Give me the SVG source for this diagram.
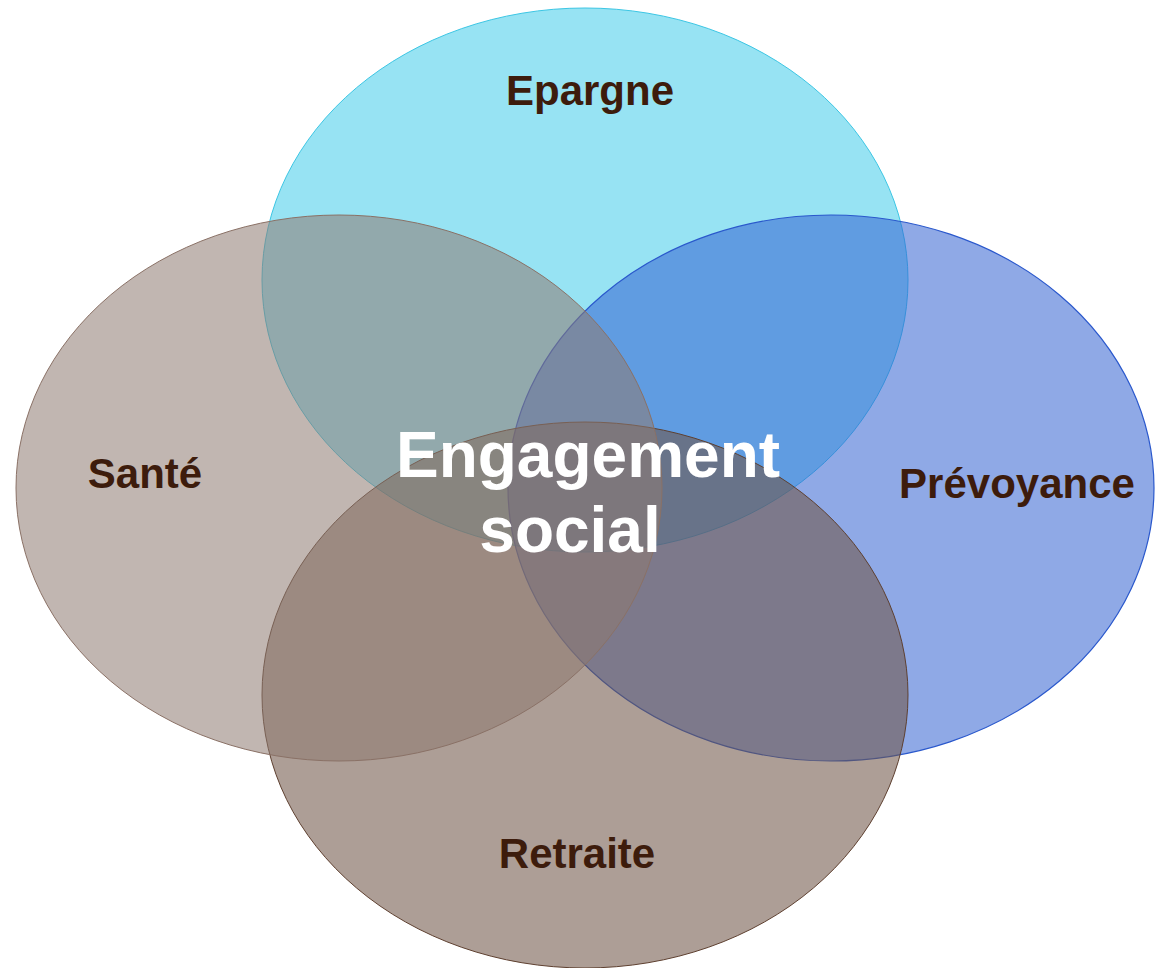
<svg xmlns="http://www.w3.org/2000/svg" width="1163" height="968" viewBox="0 0 1163 968">
<style>
.lbl{font-family:"Liberation Sans",Arial,sans-serif;font-weight:bold;font-size:42px;fill:#3d1c0c;text-anchor:middle}
.ctr{font-family:"Liberation Sans",Arial,sans-serif;font-weight:bold;font-size:64px;fill:#ffffff;text-anchor:middle}
</style>
<rect width="1163" height="968" fill="#ffffff"/>
<g id="epargne">
<ellipse cx="585" cy="280" rx="323" ry="272" fill="#42cce9" fill-opacity="0.55" stroke="#3cc6e4" stroke-width="1"/>
</g>
<g id="prevoyance">
<ellipse cx="831" cy="488" rx="323" ry="273" fill="#3363d2" fill-opacity="0.55" stroke="#2a58cc" stroke-width="1.2"/>
</g>
<g id="retraite">
<ellipse cx="585" cy="695" rx="323" ry="273" fill="#6e5446" fill-opacity="0.57" stroke="#5e4030" stroke-width="1"/>
</g>
<g id="sante">
<ellipse cx="339" cy="488" rx="323" ry="273" fill="#8e7a71" fill-opacity="0.55" stroke="#8a7166" stroke-width="1"/>
</g>
<g id="labels">
<text class="lbl" x="590" y="105">Epargne</text>
<text class="lbl" x="145" y="488">Santé</text>
<text class="lbl" x="1017" y="498">Prévoyance</text>
<text class="lbl" x="577" y="868">Retraite</text>
<text class="ctr" x="588" y="477">Engagement</text>
<text class="ctr" x="570" y="552">social</text>
</g>
</svg>
